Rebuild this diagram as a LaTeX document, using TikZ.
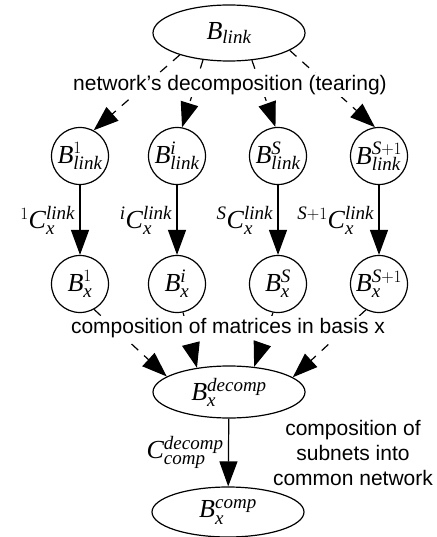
\documentclass[tikz,border=0pt]{standalone}
\usepackage{fontspec}
\setmainfont{Liberation Serif}
\newfontfamily\notefont{Liberation Sans}
\DeclareSymbolFont{letters}{TU}{\rmdefault}{m}{it}
\DeclareMathSizes{26}{26}{19}{14}
\usetikzlibrary{shapes.geometric, arrows.meta}

\begin{document}
\begin{tikzpicture}[x=1pt, y=-1pt,
          every node/.style={font=\fontsize{26}{30}\selectfont},
          oval/.style={ellipse, draw, line width=1.2pt, inner sep=0pt, minimum width=152pt, minimum height=56pt},
          subnet/.style={circle, draw, line width=1.2pt, inner sep=0pt, minimum size=57pt},
          arrow/.style={-{Triangle[length=25pt, width=18pt]}, line width=1.2pt},
          tear/.style={arrow, dash pattern=on 9pt off 8pt},
          note/.style={font=\notefont\fontsize{21}{25}\selectfont, fill=white, inner sep=2pt}
        ]
        \useasboundingbox (0,0) rectangle (436,537);
        \node[oval] (blink) at (229,33) {$B_{link}$};
        % subnets and their bases
        \foreach \x/\s [count=\i] in {80/1, 177/i, 278/S, 379/S+1} {
          \node[subnet] (l\i) at (\x,156) {$B^{\s}_{link}$};
          \node[subnet] (b\i) at (\x,284) {$B^{\s}_{x}$};
          \draw[arrow] (l\i) -- node[left=1pt] {${}^{\s}C^{link}_{x}$} (b\i);
        }
        \node[oval, minimum height=52pt] (decomp) at (229,392) {$B^{decomp}_{x}$};
        \node[oval, minimum height=50pt] (comp) at (228,512) {$B^{comp}_{x}$};
        \foreach \a/\b [count=\i] in {-156/62, -134/80, -50/95, -16/98} {
          \draw[tear] (blink.\a) -- (l\i.\b);
        }
        \foreach \a/\b [count=\i] in {-61/166, -78/143, -100/45, -117/13} {
          \draw[tear] (b\i.\a) -- (decomp.\b);
        }
        \draw[arrow] (decomp) -- node[left=1pt] {$C^{decomp}_{comp}$} (comp);
        \node[note] (tearing) at (230,85) {network’s decomposition (tearing)};
        \node[note] (basis) at (228,328) {composition of matrices in basis x};
        \node[note, fill=none, align=center] (subnets) at (353,453) {composition of\\subnets into\\common network};
      \end{tikzpicture}
\end{document}
